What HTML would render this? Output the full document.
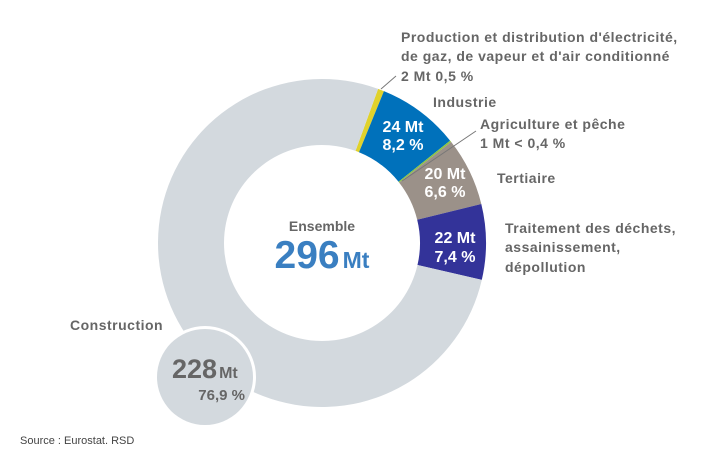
<!DOCTYPE html>
<html><head><meta charset="utf-8"><style>
html,body{margin:0;padding:0;background:#fff;}
svg{display:block;font-family:"Liberation Sans",sans-serif;font-weight:bold;}
</style></head><body>
<svg id="chart" width="714" height="461" viewBox="0 0 714 461">
<g id="slices"></g>
<circle cx="205" cy="377" r="51" fill="#fff"/>
<circle cx="205" cy="377" r="48" fill="#d3d9de"/>
<g fill="#666" font-size="14" letter-spacing="0.5">
<text x="401" y="42">Production et distribution d'électricité,</text>
<text x="401" y="61">de gaz, de vapeur et d'air conditionné</text>
<text x="401" y="81">2 Mt  0,5 %</text>
<text x="433" y="107">Industrie</text>
<text x="480" y="129">Agriculture et pêche</text>
<text x="480" y="148">1 Mt  &lt; 0,4 %</text>
<text x="497" y="183">Tertiaire</text>
<text x="505" y="233">Traitement des déchets,</text>
<text x="505" y="252">assainissement,</text>
<text x="505" y="272">dépollution</text>
<text x="70" y="330">Construction</text>
</g>
<line x1="381" y1="89" x2="396" y2="76" stroke="#777" stroke-width="1"/>
<line x1="402" y1="181" x2="476" y2="131" stroke="#777" stroke-width="1"/>
<g fill="#fff" font-size="16" text-anchor="middle">
<text x="403" y="132">24 Mt</text>
<text x="403" y="150">8,2 %</text>
<text x="445" y="179">20 Mt</text>
<text x="445" y="197">6,6 %</text>
<text x="455" y="243">22 Mt</text>
<text x="455" y="262">7,4 %</text>
</g>
<text x="322" y="231" font-size="14" fill="#666" text-anchor="middle">Ensemble</text>
<text x="322" y="268" text-anchor="middle" fill="#3a7fc1"><tspan font-size="39">296</tspan><tspan font-size="23" dx="3">Mt</tspan></text>
<text x="172" y="378" fill="#666"><tspan font-size="27">228</tspan><tspan font-size="16" dx="2">Mt</tspan></text>
<text x="245" y="400" fill="#666" font-size="15" text-anchor="end">76,9 %</text>
<text x="20" y="444" fill="#444" font-size="11" font-weight="normal">Source : Eurostat. RSD</text>
</svg>
<script>
const categories = ["Production électricité", "Industrie", "Agriculture", "Tertiaire", "Traitement", "Construction"];
const values = [1.8, 24, 0.5, 20, 22, 228];
const colors = ["#e0d22b", "#0071bb", "#8dc63f", "#9b9189", "#333399", "#d3d9de"];
const startDeg = 20;
const cx = 322, cy = 243, ro = 164, ri = 98;
const g = document.getElementById('slices');
const total = values.reduce((a, b) => a + b, 0);
function pt(deg, r) { const a = (deg - 90) * Math.PI / 180; return [cx + r * Math.cos(a), cy + r * Math.sin(a)]; }
let cur = startDeg;
values.forEach((v, i) => {
  const sweep = v / total * 360;
  const a0 = cur, a1 = cur + sweep;
  const large = sweep > 180 ? 1 : 0;
  const p0 = pt(a0, ro), p1 = pt(a1, ro), p2 = pt(a1, ri), p3 = pt(a0, ri);
  const d = `M${p0[0]},${p0[1]} A${ro},${ro} 0 ${large} 1 ${p1[0]},${p1[1]} L${p2[0]},${p2[1]} A${ri},${ri} 0 ${large} 0 ${p3[0]},${p3[1]} Z`;
  const p = document.createElementNS('http://www.w3.org/2000/svg', 'path');
  p.setAttribute('d', d);
  p.setAttribute('fill', colors[i]);
  
  
  g.appendChild(p);
  cur = a1;
});
</script>
</body></html>
